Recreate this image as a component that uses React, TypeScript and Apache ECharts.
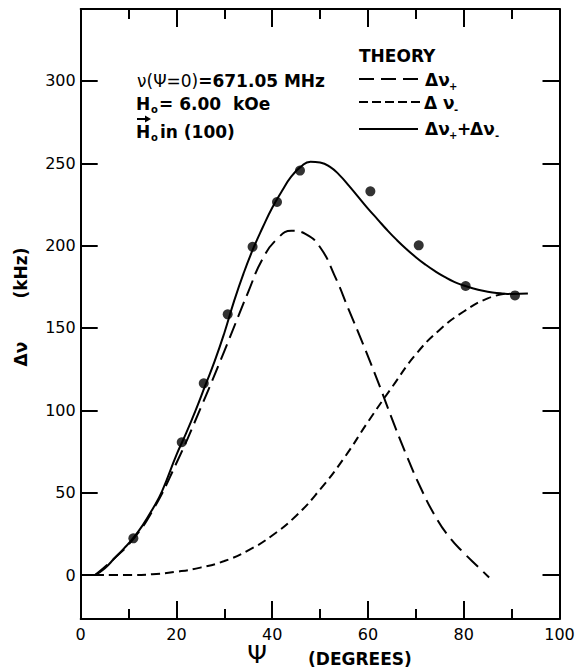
import React, { useEffect, useRef } from "react";
import * as echarts from "echarts";

// Sum curve Δν+ + Δν- (solid)
const solidPsi = [3, 5, 7, 9, 11, 13, 15, 17, 20, 22, 24, 26, 28, 30, 32, 34, 36, 38, 40, 42, 44, 46, 48, 50, 52, 54, 56, 58, 60, 62, 64, 66, 68, 70, 72, 74, 76, 78, 80, 82, 84, 86, 88, 90, 93.4];
const solidDelta = [0, 4, 10, 16, 22.5, 30.5, 40, 51, 73, 86, 100, 115, 130, 147, 166, 183, 198, 211, 223, 233, 242, 248, 251, 250.5, 248, 243, 236.5, 229.5, 222.5, 216, 209.5, 203.5, 198, 193, 188.5, 184.5, 181, 178, 175.8, 174, 172.6, 171.6, 171, 170.7, 171];

// Δν+ (long dash, peaked)
const plusPsi = [3, 7, 11, 15, 20, 25, 30, 35, 38, 41, 44, 47, 50, 53, 56, 59, 62, 65, 68, 71, 74, 77, 80, 83, 85.3];
const plusDelta = [0, 10, 22, 39, 68, 101, 136, 172, 192, 204, 209, 207, 199, 182, 161, 140, 118, 95, 73, 53, 36, 23, 13.5, 5, -1.5];

// Δν- (medium dash, rising)
const minusPsi = [3, 10, 15, 20, 25, 30, 35, 40, 45, 50, 55, 60, 65, 70, 75, 80, 85, 89];
const minusDelta = [0, 0, 0.5, 2, 4.5, 8.5, 15, 24, 36, 52, 71, 93, 114, 134, 149, 160, 168, 171];

// Measured points
const dotPsi = [11.0, 21.1, 25.7, 30.7, 35.9, 41.0, 45.8, 60.5, 70.6, 80.4, 90.7];
const dotDelta = [22.3, 80.6, 116.4, 158.3, 199.3, 226.5, 245.6, 233, 200.2, 175.5, 169.8];

const xTicks = [0, 20, 40, 60, 80, 100];
const yTicks = [0, 50, 100, 150, 200, 250, 300];

const zip = (a: number[], b: number[]) => a.map((v, i) => [v, b[i]]);

const BOLD = 'bold 17px "DejaVu Sans"';
const REG = '17px "DejaVu Sans"';
const SUB = 'bold 10px "DejaVu Sans"';

export default function App() {
  const ref = useRef<HTMLDivElement>(null);
  useEffect(() => {
    if (!ref.current) return;
    const chart = echarts.init(ref.current, null, { renderer: "svg" });
    const xCommon = {
      type: "value" as const,
      min: xTicks[0],
      max: xTicks[xTicks.length - 1],
      interval: 20,
      axisLine: { show: true, onZero: false, lineStyle: { color: "#000", width: 2 } },
      axisTick: { show: true, inside: true, length: 18, lineStyle: { color: "#000", width: 2 } },
      minorTick: { show: true, splitNumber: 2, length: 10, lineStyle: { color: "#000", width: 2 } },
      splitLine: { show: false },
      minorSplitLine: { show: false },
    };
    const yCommon = {
      type: "value" as const,
      min: -26.7,
      max: 343.7,
      axisLine: { show: true, onZero: false, lineStyle: { color: "#000", width: 2 } },
      axisTick: { show: true, inside: true, length: 17, customValues: yTicks, lineStyle: { color: "#000", width: 2 } },
      splitLine: { show: false },
    };
    const T = (text: string, x: number, y: number, font: string) => ({
      type: "text",
      x,
      y,
      style: { text, font, fill: "#000", align: "left", verticalAlign: "middle" },
    });
    const L = (x1: number, y1: number, x2: number, y2: number, dash?: number[]) => ({
      type: "line",
      shape: { x1, y1, x2, y2 },
      style: { stroke: "#000", lineWidth: 2, lineDash: dash },
    });
    chart.setOption({
      animation: false,
      backgroundColor: "#fff",
      grid: { left: 80.7, right: 21.5, top: 9, bottom: 51 },
      xAxis: [
        {
          ...xCommon,
          position: "bottom",
          axisLabel: { show: true, margin: 7, fontSize: 16, color: "#000", fontFamily: "DejaVu Sans" },
        },
        { ...xCommon, position: "top", axisLabel: { show: false } },
      ],
      yAxis: [
        {
          ...yCommon,
          position: "left",
          axisLabel: { show: true, customValues: yTicks, margin: 5, fontSize: 16, color: "#000", fontFamily: "DejaVu Sans" },
        },
        { ...yCommon, position: "right", axisLabel: { show: false } },
      ],
      series: [
        {
          type: "line",
          data: zip(solidPsi, solidDelta),
          smooth: true,
          showSymbol: false,
          lineStyle: { color: "#000", width: 2, type: "solid" },
        },
        {
          type: "line",
          data: zip(plusPsi, plusDelta),
          smooth: true,
          showSymbol: false,
          lineStyle: { color: "#000", width: 2, type: [16, 7] },
        },
        {
          type: "line",
          data: zip(minusPsi, minusDelta),
          smooth: true,
          showSymbol: false,
          lineStyle: { color: "#000", width: 2, type: [9, 5] },
        },
        {
          type: "scatter",
          data: zip(dotPsi, dotDelta),
          symbolSize: 10,
          itemStyle: { color: "#000" },
        },
      ],
      graphic: [
        // annotation
        {
          type: "text",
          x: 137,
          y: 81,
          style: {
            text: "{r|ν(Ψ=0)}{b|=671.05 MHz}",
            align: "left",
            verticalAlign: "middle",
            rich: {
              r: { font: REG, fill: "#000" },
              b: { font: BOLD, fill: "#000" },
            },
          },
        },
        T("H", 136, 104, BOLD),
        T("o", 151, 109, SUB),
        T("= 6.00  kOe", 159, 104, BOLD),
        T("H", 136, 132, BOLD),
        L(137, 119, 147, 119),
        { type: "polygon", shape: { points: [[151, 119], [145, 115.5], [145, 122.5]] }, style: { fill: "#000" } },
        T("o", 151, 137, SUB),
        T("in (100)", 160, 132, BOLD),
        // legend
        T("THEORY", 359, 56, BOLD),
        L(359, 79, 423, 79, [15, 7]),
        T("Δν", 425, 80, BOLD),
        T("+", 449, 86, SUB),
        L(359, 102, 423, 102, [9, 4]),
        T("Δ ν", 424, 103, BOLD),
        T("-", 454, 109, SUB),
        L(359, 129, 418, 129),
        T("Δν", 425, 129, BOLD),
        T("+", 449, 135, SUB),
        T("+", 457, 129, BOLD),
        T("Δν", 470, 129, BOLD),
        T("-", 495, 135, SUB),
        // y axis name
        { type: "text", x: 21, y: 273, rotation: Math.PI / 2, style: { text: "(kHz)", font: BOLD, fill: "#000", align: "center", verticalAlign: "middle" } },
        { type: "text", x: 21, y: 354, rotation: Math.PI / 2, style: { text: "Δν", font: BOLD, fill: "#000", align: "center", verticalAlign: "middle" } },
        // x axis name
        { type: "text", x: 257, y: 654, style: { text: "Ψ", font: '25px "DejaVu Sans"', fill: "#000", align: "center", verticalAlign: "middle" } },
        T("(DEGREES)", 308, 659, BOLD),
      ],
    });
    return () => chart.dispose();
  }, []);
  return (
    <div
      ref={ref}
      style={{ position: "absolute", left: 0, top: 0, width: 581, height: 670, background: "#fff" }}
    />
  );
}
